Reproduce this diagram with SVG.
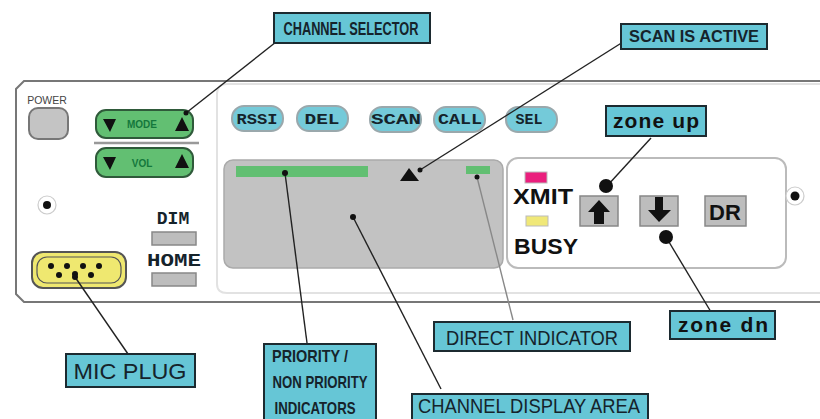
<svg xmlns="http://www.w3.org/2000/svg" width="820" height="419" viewBox="0 0 820 419">
<defs><style>
.lab{fill:#66c6d6;stroke:#1c2a30;stroke-width:2}
.lt{font-family:"Liberation Sans",Arial,sans-serif;fill:#15232b;text-anchor:middle}
.ltb{font-family:"Liberation Sans",Arial,sans-serif;font-weight:bold;fill:#15232b;text-anchor:middle}
.sl{font-family:"Liberation Mono","Courier New",monospace;font-weight:bold;fill:#15232b;text-anchor:middle}
.b{font-family:"Liberation Sans",Arial,sans-serif;font-weight:bold;fill:#111;text-anchor:middle}
.pill{fill:#74cad9;stroke:#9aa8ac;stroke-width:2}
.green{fill:#62bf72;stroke:#2f5a3a;stroke-width:2}
.gray{fill:#bdbdbd;stroke:#888;stroke-width:1.5}
.ln{stroke:#222;stroke-width:1.4;fill:none}
.d{fill:#111}
.jack{fill:#fff;stroke:#ccc;stroke-width:1.2}
</style></defs>
<rect width="820" height="419" fill="#fff"/>
<g id="panel">
<path d="M820 81H24L16 89V294L24 302H820" fill="none" stroke="#777" stroke-width="2"/>
<path d="M820 84H227Q217 84 217 94V284Q217 293 227 293H820" fill="none" stroke="#e2e2e2" stroke-width="2"/>
</g>
<g id="power"><text x="47" y="104" font-family="Liberation Sans,Arial,sans-serif" font-size="10.5" text-anchor="middle" fill="#444">POWER</text><rect x="29" y="108" width="39" height="31" rx="9" fill="#c4c4c4" stroke="#777" stroke-width="2"/></g>
<g id="mode"><rect class="green" x="96" y="110" width="97" height="28" rx="10"/><path class="d" d="M103 119h13l-6 13zM175 131l7-14 7 14z"/><text x="142" y="128" font-family="Liberation Sans,Arial,sans-serif" font-size="10" font-weight="bold" text-anchor="middle" fill="#14783c">MODE</text></g>
<line x1="94" y1="143" x2="199" y2="143" stroke="#999" stroke-width="2.5"/>
<g id="vol"><rect class="green" x="96" y="148" width="97" height="29" rx="10"/><path class="d" d="M103 157h13l-6 13zM175 168l7-14 7 14z"/><text x="142" y="167" font-family="Liberation Sans,Arial,sans-serif" font-size="10" font-weight="bold" text-anchor="middle" fill="#14783c">VOL</text></g>
<g id="jack-left"><circle class="jack" cx="47" cy="205" r="9"/><circle class="d" cx="47" cy="205" r="4"/></g>
<g id="dim"><text class="sl" x="173" y="224" font-size="18">DIM</text><rect class="gray" x="152" y="232" width="44" height="13"/></g>
<g id="home"><text class="sl" x="174" y="266" font-size="18" textLength="54" lengthAdjust="spacingAndGlyphs">HOME</text><rect class="gray" x="152" y="273" width="44" height="13"/></g>
<g id="mic-connector"><rect x="32" y="252" width="94" height="36" rx="11" fill="#efe870" stroke="#555" stroke-width="2"/><rect x="37" y="257" width="84" height="26" rx="10" fill="none" stroke="#555" stroke-width="1.2"/><g class="d"><circle cx="51" cy="266" r="3"/><circle cx="67" cy="266" r="3"/><circle cx="83" cy="266" r="3"/><circle cx="99" cy="266" r="3"/><circle cx="59" cy="275" r="3"/><circle cx="75" cy="274" r="3"/><circle cx="91" cy="275" r="3"/></g></g>
<g id="rssi"><rect class="pill" x="232" y="106" width="51" height="25" rx="12"/><text class="sl" x="257" y="124" font-size="15.5" textLength="41" lengthAdjust="spacingAndGlyphs">RSSI</text></g>
<g id="del"><rect class="pill" x="297" y="106" width="51" height="25" rx="12"/><text class="sl" x="322" y="124" font-size="15.5" textLength="35" lengthAdjust="spacingAndGlyphs">DEL</text></g>
<g id="scan"><rect class="pill" x="370" y="107" width="51" height="25" rx="12"/><text class="sl" x="396" y="124" font-size="15.5" textLength="50" lengthAdjust="spacingAndGlyphs">SCAN</text></g>
<g id="call"><rect class="pill" x="434" y="107" width="51" height="25" rx="12"/><text class="sl" x="460" y="124" font-size="15.5" textLength="44" lengthAdjust="spacingAndGlyphs">CALL</text></g>
<g id="sel"><rect class="pill" x="506" y="107" width="51" height="25" rx="12"/><text class="sl" x="529" y="124" font-size="14" textLength="27" lengthAdjust="spacingAndGlyphs">SEL</text></g>
<g id="display"><rect x="224" y="160" width="279" height="108" rx="9" fill="#c2c2c2" stroke="#aaa" stroke-width="1.5"/><rect x="236" y="166" width="132" height="11" fill="#62bf72"/><rect x="466" y="166" width="24" height="8" fill="#62bf72"/><path class="d" d="M400 181l9-13 10 13z"/></g>
<g id="zone-panel"><rect x="507" y="158" width="279" height="110" rx="11" fill="#fff" stroke="#bbb" stroke-width="2"/></g>
<g id="xmit"><rect x="525" y="172" width="22" height="11" fill="#ea1f7d" stroke="#bbb"/><text class="b" x="543" y="204" font-size="22" textLength="60" lengthAdjust="spacingAndGlyphs">XMIT</text></g>
<g id="busy"><rect x="526" y="216" width="22" height="10" fill="#f0e878" stroke="#bbb"/><text class="b" x="546" y="254" font-size="22" textLength="64" lengthAdjust="spacingAndGlyphs">BUSY</text></g>
<g id="up"><rect class="gray" x="580" y="196" width="38" height="30"/><path class="d" d="M599 200l11 12h-6v12h-10v-12h-6z"/></g>
<g id="dn"><rect class="gray" x="640" y="196" width="38" height="30"/><path class="d" d="M655 197h8v13h8l-12 12-11-12h7z"/></g>
<g id="dr"><rect class="gray" x="705" y="196" width="41" height="30"/><text class="b" x="725" y="220" font-size="22" fill="#222">DR</text></g>
<g id="jack-right"><circle class="jack" cx="795" cy="196" r="9"/><circle class="d" cx="795" cy="196" r="4.5"/></g>
<g id="connectors">
<path class="ln" d="M276 42L186 113"/><circle class="d" cx="186" cy="113" r="2.5"/>
<path class="ln" d="M623 42L420 170"/><circle class="d" cx="420" cy="170" r="2.5"/>
<path class="ln" d="M651 138L607 186"/><circle class="d" cx="606" cy="186" r="7"/>
<path class="ln" d="M666 237L711 312" stroke-width="2"/><circle class="d" cx="666" cy="237" r="7"/>
<path class="ln" d="M75 277L128 354" stroke-width="2"/><circle class="d" cx="75" cy="277" r="3"/>
<path class="ln" d="M285 173L307 343" stroke-width="2"/><circle class="d" cx="285" cy="173" r="3"/>
<path class="ln" d="M353 217L441 389" stroke-width="2"/><circle class="d" cx="353" cy="217" r="3"/>
<path d="M477 177L513 320" stroke="#888" stroke-width="1.4" fill="none"/><circle class="d" cx="477" cy="177" r="2.5"/>
</g>
<g id="label-channel-selector"><rect class="lab" x="274" y="13" width="156" height="30"/><text class="ltb" x="351" y="35" font-size="18" textLength="135" lengthAdjust="spacingAndGlyphs">CHANNEL SELECTOR</text></g>
<g id="label-scan"><rect class="lab" x="621" y="24" width="146" height="25"/><text class="ltb" x="694" y="42" font-size="16" textLength="130" lengthAdjust="spacingAndGlyphs">SCAN IS ACTIVE</text></g>
<g id="label-zone-up"><rect class="lab" x="606" y="106" width="100" height="30"/><text class="b" x="656" y="128" font-size="21" textLength="86" lengthAdjust="spacing">zone up</text></g>
<g id="label-zone-dn"><rect class="lab" x="670" y="311" width="105" height="28"/><text class="b" x="723" y="332" font-size="21" textLength="90" lengthAdjust="spacing">zone dn</text></g>
<g id="label-mic"><rect class="lab" x="66" y="354" width="129" height="33"/><text class="lt" x="130" y="379" font-size="22" textLength="113" lengthAdjust="spacingAndGlyphs">MIC PLUG</text></g>
<g id="label-priority"><rect class="lab" x="264" y="344" width="112" height="80"/><text class="ltb" x="310" y="362" font-size="17" textLength="76" lengthAdjust="spacingAndGlyphs">PRIORITY /</text><text class="ltb" x="320" y="388" font-size="17" textLength="95" lengthAdjust="spacingAndGlyphs">NON PRIORITY</text><text class="ltb" x="315" y="414" font-size="17" textLength="81" lengthAdjust="spacingAndGlyphs">INDICATORS</text></g>
<g id="label-direct"><rect class="lab" x="434" y="322" width="196" height="29"/><text class="lt" x="532" y="345" font-size="20" textLength="172" lengthAdjust="spacingAndGlyphs">DIRECT INDICATOR</text></g>
<g id="label-channel-display"><rect class="lab" x="412" y="394" width="236" height="30"/><text class="lt" x="529" y="413" font-size="20" textLength="222" lengthAdjust="spacingAndGlyphs">CHANNEL DISPLAY AREA</text></g>
</svg>
